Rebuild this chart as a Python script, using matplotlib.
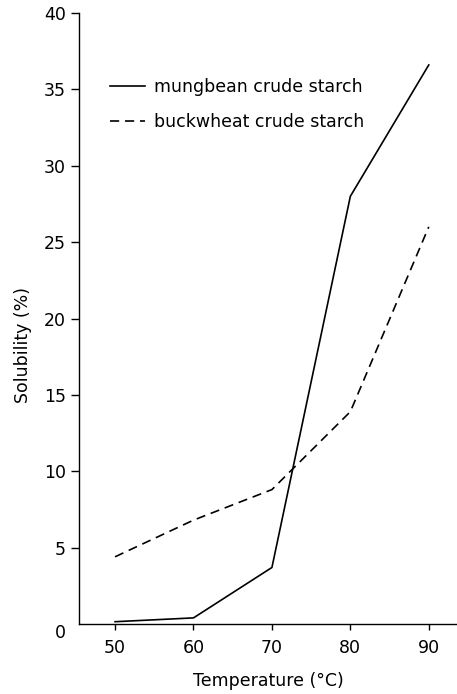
import numpy as np
import matplotlib
matplotlib.use('Agg')
import matplotlib.pyplot as plt

# solubility vs temperature
temps = [50, 60, 70, 80, 90]
mungbean = [0.15, 0.4, 3.7, 28.0, 36.6]
buckwheat = [4.4, 6.8, 8.8, 13.9, 26.0]
yticks = [0, 5, 10, 15, 20, 25, 30, 35, 40]
xticks = [50, 60, 70, 80, 90]

plt.rcParams['font.family'] = 'DejaVu Sans'
plt.rcParams['font.size'] = 12.5

fig = plt.figure(figsize=(4.57, 6.94), dpi=100)
ax = fig.add_axes([79/457, 1 - 624/694, 378/457, 611/694])

ax.plot(temps, mungbean, color='black', lw=1.2, label='mungbean crude starch')
ax.plot(temps, buckwheat, color='black', lw=1.2, linestyle=(0, (5.5, 3.5)),
        label='buckwheat crude starch')

ax.set_xlim(45.4, 93.6)
ax.set_ylim(0, 40)
ax.set_xticks(xticks)
ax.set_yticks(yticks)
ax.spines['top'].set_visible(False)
ax.spines['right'].set_visible(False)
ax.spines['left'].set_linewidth(1.0)
ax.spines['bottom'].set_linewidth(1.0)
ax.tick_params(axis='y', direction='out', length=6, width=1.0, pad=3.5)
ax.tick_params(axis='x', direction='out', length=4, width=1.0, pad=6.5)

# the "0" sits below the corner, without a tick mark
ax.yaxis.get_major_ticks()[0].tick1line.set_visible(False)
ax.get_yticklabels()[0].set_va('top')

ax.set_xlabel('Temperature (°C)', labelpad=11)
ax.set_ylabel('Solubility (%)')
ax.yaxis.set_label_coords(-0.124, 0.457)

ax.legend(loc='upper left', bbox_to_anchor=(0.082, 0.894), frameon=False,
          borderpad=0, borderaxespad=0, handlelength=2.0, handletextpad=0.55,
          labelspacing=1.0)

fig.savefig('out.png', dpi=100)
